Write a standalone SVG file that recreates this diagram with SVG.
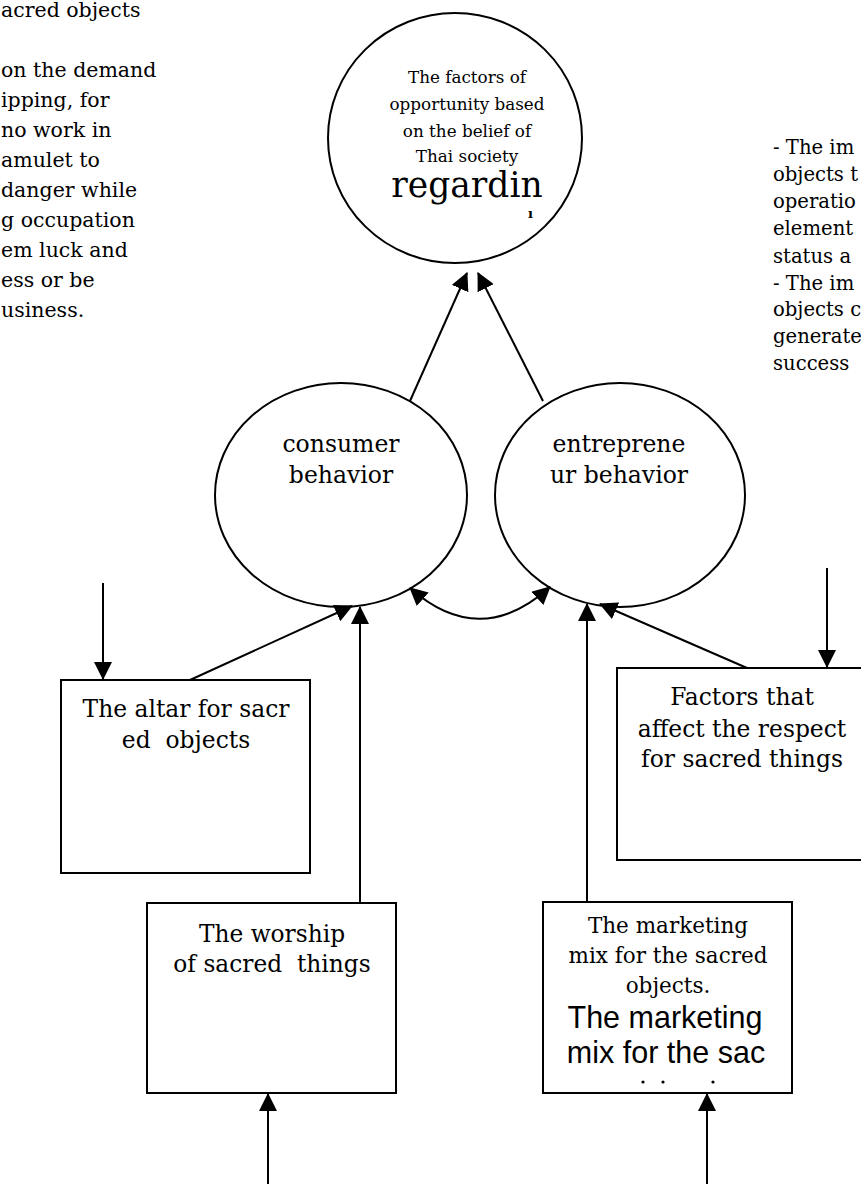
<svg xmlns="http://www.w3.org/2000/svg" width="861" height="1184" viewBox="0 0 861 1184">
<style>
.s{font-family:"DejaVu Serif","Liberation Serif",serif;fill:#000}
.a{font-family:"Liberation Sans",Arial,sans-serif;fill:#000}
.c{text-anchor:middle}
.sh{fill:#fff;stroke:#000;stroke-width:2}
.ln{fill:none;stroke:#000;stroke-width:2}
</style>
<defs>
<marker id="ah" viewBox="0 0 18 18" refX="17" refY="9" markerWidth="18" markerHeight="18" markerUnits="userSpaceOnUse" orient="auto-start-reverse">
<path d="M0,0 L18,9 L0,18 z" fill="#000"/>
</marker>
</defs>
<rect width="861" height="1184" fill="#fff"/>

<g id="note-left" class="s" font-size="20.5">
<text x="1" y="17">acred objects</text>
<text x="1" y="77">on the demand</text>
<text x="1" y="107">ipping, for</text>
<text x="1" y="137">no work in</text>
<text x="1" y="167">amulet to</text>
<text x="1" y="197">danger while</text>
<text x="1" y="227">g occupation</text>
<text x="1" y="257">em luck and</text>
<text x="1" y="287">ess or be</text>
<text x="1" y="317">usiness.</text>
</g>

<g id="note-right" class="s" font-size="19.6">
<text x="773" y="154">- The im</text>
<text x="773" y="181">objects t</text>
<text x="773" y="208">operatio</text>
<text x="773" y="235">element</text>
<text x="773" y="263">status a</text>
<text x="773" y="290">- The im</text>
<text x="773" y="316">objects c</text>
<text x="773" y="343">generate</text>
<text x="773" y="370">success</text>
</g>

<g id="node-factors-opportunity">
<ellipse class="sh" cx="455" cy="138" rx="127" ry="125"/>
<g class="s c" font-size="16.8">
<text x="467" y="83">The factors of</text>
<text x="467" y="110">opportunity based</text>
<text x="467" y="137">on the belief of</text>
<text x="467" y="162">Thai society</text>
</g>
<text class="s c" x="467" y="197" font-size="34.5">regardin</text>
<text class="s" x="528" y="218" font-size="13" font-weight="bold">ı</text>
</g>

<g id="node-consumer">
<ellipse class="sh" cx="341" cy="495" rx="126" ry="112"/>
<text class="s c" x="341" y="452" font-size="23.5">consumer</text>
<text class="s c" x="341" y="483" font-size="23.5">behavior</text>
</g>

<g id="node-entrepreneur">
<ellipse class="sh" cx="620" cy="495" rx="125" ry="112"/>
<text class="s c" x="619" y="452" font-size="23.5">entreprene</text>
<text class="s c" x="619" y="483" font-size="23.5">ur behavior</text>
</g>

<g id="node-altar">
<rect class="sh" x="61" y="680" width="249" height="193"/>
<text class="s c" x="186" y="717" font-size="23.4">The altar for sacr</text>
<text class="s c" x="186" y="748" font-size="23.4" xml:space="preserve">ed  objects</text>
</g>

<g id="node-factors-respect">
<rect class="sh" x="617" y="668" width="252" height="192"/>
<text class="s c" x="742" y="705" font-size="23.4">Factors that</text>
<text class="s c" x="742" y="737" font-size="23.4">affect the respect</text>
<text class="s c" x="742" y="767" font-size="23.4">for sacred things</text>
</g>

<g id="node-worship">
<rect class="sh" x="147" y="903" width="249" height="190"/>
<text class="s c" x="272" y="942" font-size="23.3">The worship</text>
<text class="s c" x="272" y="972" font-size="23.3" xml:space="preserve">of sacred  things</text>
</g>

<g id="node-marketing">
<rect class="sh" x="543" y="902" width="249" height="191"/>
<text class="s c" x="668" y="933" font-size="21.5">The marketing</text>
<text class="s c" x="668" y="963" font-size="21.5">mix for the sacred</text>
<text class="s c" x="668" y="993" font-size="21.5">objects.</text>
<text class="a c" x="665" y="1028" font-size="30.5">The marketing</text>
<text class="a c" x="666" y="1063" font-size="30.5">mix for the sac</text>
<circle cx="643" cy="1082" r="1.6" fill="#000"/>
<circle cx="663" cy="1082" r="1.6" fill="#000"/>
<circle cx="713" cy="1082" r="1.6" fill="#000"/>
</g>

<g id="connectors" class="ln" marker-end="url(#ah)">
<line x1="410" y1="401" x2="467" y2="273"/>
<line x1="543" y1="401" x2="478" y2="273"/>
<path d="M410,588 Q480,650 550,587" marker-start="url(#ah)"/>
<line x1="190" y1="680" x2="352" y2="606"/>
<line x1="360" y1="903" x2="360" y2="607"/>
<line x1="747" y1="668" x2="600" y2="604"/>
<line x1="587" y1="902" x2="587" y2="604"/>
<line x1="103" y1="583" x2="103" y2="679"/>
<line x1="827" y1="568" x2="827" y2="667"/>
<line x1="268" y1="1184" x2="268" y2="1094"/>
<line x1="707" y1="1184" x2="707" y2="1094"/>
</g>
</svg>
